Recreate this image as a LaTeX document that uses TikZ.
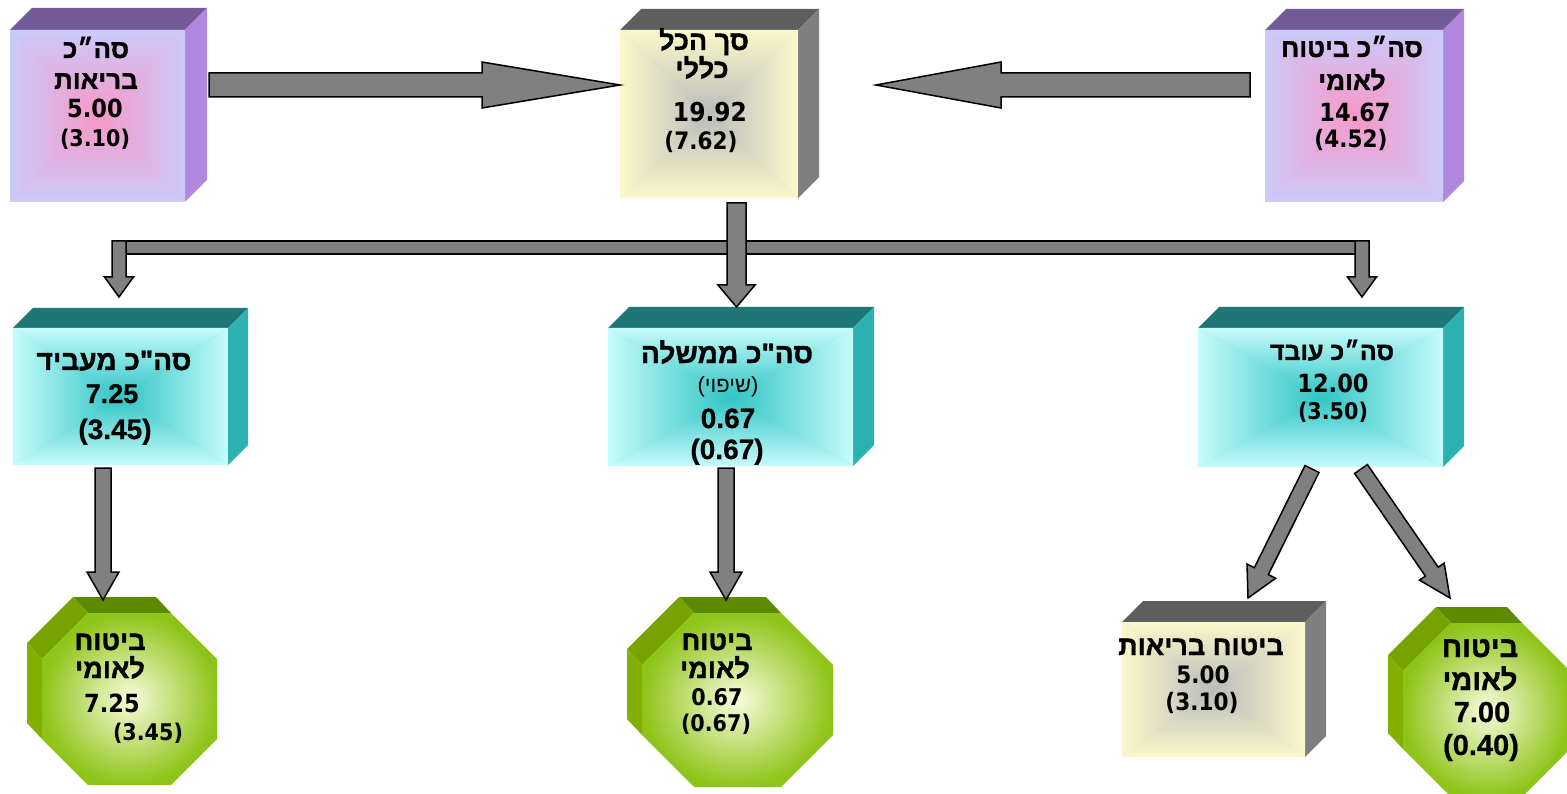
\documentclass[tikz,border=0pt]{standalone}
\usepackage{fontspec}
\usetikzlibrary{calc}
\TeXXeTstate=1
\newfontfamily\hebf[Script=Hebrew,BoldFeatures={FakeBold=1.3}]{Liberation Sans}
\newfontfamily\tahf[FakeStretch=0.9]{DejaVu Sans}
\newfontfamily\arif[BoldFeatures={FakeBold=0.6}]{Liberation Sans}
\newcommand\fs[1]{\fontsize{#1}{#1}\selectfont}
\definecolor{purtop}{HTML}{735A98}
\definecolor{purside}{HTML}{B086DE}
\definecolor{purout}{HTML}{CBCBFA}
\definecolor{purin}{HTML}{F797C8}
\definecolor{yeltop}{HTML}{5E5E5E}
\definecolor{yelside}{HTML}{7F7F7F}
\definecolor{yelout}{HTML}{FBF9CA}
\definecolor{yelin}{HTML}{BBBBBB}
\definecolor{teatop}{HTML}{1E7676}
\definecolor{teaside}{HTML}{2CB0B0}
\definecolor{teaout}{HTML}{C6FBFB}
\definecolor{teain}{HTML}{30C4C4}
\definecolor{grntop}{HTML}{5C8A00}
\definecolor{grndiag}{HTML}{76A300}
\definecolor{grnside}{HTML}{82B000}
\definecolor{grnout}{HTML}{8EC418}
\definecolor{grnin}{HTML}{F8FCDC}
\definecolor{arrgray}{HTML}{808080}
% 3D box: x1,y1,x2,y2 (front face), depth, scheme, name
\newcommand\cube[7]{%
 \fill[#6top] (#1,#2) -- (#1+#5,#2-#5) -- (#3+#5,#2-#5) -- (#3,#2) -- cycle;
 \fill[#6side] (#3,#2) -- (#3+#5,#2-#5) -- (#3+#5,#4-#5) -- (#3,#4) -- cycle;
 \fill[#6out!50!#6in] (#1,#2) rectangle (#3,#4);
 \shade[top color=#6out,bottom color=#6in] (#1,#2) -- (#3,#2) -- ({(#1+#3)/2},{(#2+#4)/2}) -- cycle;
 \shade[top color=#6in,bottom color=#6out] (#1,#4) -- (#3,#4) -- ({(#1+#3)/2},{(#2+#4)/2}) -- cycle;
 \shade[left color=#6out,right color=#6in] (#1,#2) -- (#1,#4) -- ({(#1+#3)/2},{(#2+#4)/2}) -- cycle;
 \shade[left color=#6in,right color=#6out] (#3,#2) -- (#3,#4) -- ({(#1+#3)/2},{(#2+#4)/2}) -- cycle;
 \node[inner sep=0pt,minimum width={#3-#1},minimum height={#4-#2}] (#7) at ({(#1+#3)/2},{(#2+#4)/2}) {};
}
% 3D octagon: x1,y1,x2,y2 (front face), corner cut, name
\newcommand\octo[6]{%
 \fill[grntop] (#1+#5-15,#2-16) -- (#3-#5-15,#2-16) -- (#3-#5,#2) -- (#1+#5,#2) -- cycle;
 \fill[grndiag] (#1-15,#2+#5-16) -- (#1+#5-15,#2-16) -- (#1+#5,#2) -- (#1,#2+#5) -- cycle;
 \fill[grnside] (#1-15,#2+#5-16) -- (#1-15,#4-#5-16) -- (#1,#4-#5) -- (#1,#2+#5) -- cycle;
 \shade[inner color=grnin,outer color=grnout] (#1+#5,#2) -- (#3-#5,#2) -- (#3,#2+#5) -- (#3,#4-#5) -- (#3-#5,#4) -- (#1+#5,#4) -- (#1,#4-#5) -- (#1,#2+#5) -- cycle;
 \node[inner sep=0pt,minimum width={#3-#1},minimum height={#4-#2}] (#6) at ({(#1+#3)/2},{(#2+#4)/2}) {};
}
% block arrow: start, end, shaft half width, head half width, head length
\newcommand\barrow[5]{%
 \coordinate (tmpb) at ($(#2)!#5!(#1)$);
 \draw[blk] ($(#1)!#3!90:(#2)$) -- ($(tmpb)!#3!90:(#2)$) -- ($(tmpb)!#4!90:(#2)$) -- (#2) -- ($(tmpb)!#4!-90:(#2)$) -- ($(tmpb)!#3!-90:(#2)$) -- ($(#1)!#3!-90:(#2)$) -- cycle;
}
\begin{document}
\begin{tikzpicture}[x=1pt,y=-1pt,
  blk/.style={fill=arrgray,draw=black,line width=1.5pt,line join=miter},
  txt/.style={inner sep=0pt,anchor=base,text=black},
  hb/.style={txt,font={\hebf\bfseries\fs{#1}}},
  hr/.style={txt,font={\hebf\fs{#1}}},
  tb/.style={txt,font={\tahf\bfseries\fs{#1}}},
  ab/.style={txt,font={\arif\bfseries\fs{#1}}}]
\useasboundingbox (0,0) rectangle (1567,794);
\clip (0,0) rectangle (1567,794);
% boxes
\cube{10}{30}{185}{202}{22}{pur}{B1}
\cube{620}{30}{798}{198}{21}{yel}{B2}
\cube{1265}{30}{1443}{202}{21}{pur}{B3}
\cube{13}{328}{228}{465}{20}{tea}{T1}
\cube{608}{328}{853}{466}{21}{tea}{T2}
\cube{1198}{328}{1443}{467}{21}{tea}{T3}
\cube{1122}{622}{1305}{757}{21}{yel}{Y1}
\octo{42}{613}{217}{785}{46}{O1}
\octo{642}{613}{833}{787}{52}{O2}
\octo{1403}{623}{1570}{797}{48}{O3}
% texts
\node[hb=26] (t1a) at (96,58) {\beginR סה״כ\endR};
\node[hb=26] (t1b) at (96,89) {\beginR בריאות\endR};
\node[tb=25] (t1c) at (95,118) {5.00};
\node[tb=23] (t1d) at (95,147) {(3.10)};
\node[hb=27] (t2a) at (704,50) {\beginR סך הכל\endR};
\node[hb=27] (t2b) at (702,78) {\beginR כללי\endR};
\node[tb=26] (t2c) at (710,122) {19.92};
\node[tb=24] (t2d) at (701,150) {(7.62)};
\node[hb=26] (t3a) at (1352,57) {\beginR סה״כ ביטוח\endR};
\node[hb=26] (t3b) at (1352,90) {\beginR לאומי\endR};
\node[tb=25] (t3c) at (1355,122) {14.67};
\node[tb=24] (t3d) at (1351,148) {(4.52)};
\node[hb=28] (t4a) at (114,370) {\beginR סה"כ מעביד\endR};
\node[ab=27] (t4b) at (112,403) {7.25};
\node[ab=28] (t4c) at (115,439) {(3.45)};
\node[hb=28] (t5a) at (727,363) {\beginR סה"כ ממשלה\endR};
\node[hr=22] (t5b) at (728,392) {{\arif(}\beginR שיפוי\endR{\arif)}};
\node[ab=28] (t5c) at (728,428) {0.67};
\node[ab=28] (t5d) at (727,459) {(0.67)};
\node[hb=25] (t6a) at (1332,360) {\beginR סה״כ עובד\endR};
\node[tb=25] (t6b) at (1333,392) {12.00};
\node[tb=23] (t6c) at (1333,420) {(3.50)};
\node[hb=27] (t7a) at (110,650) {\beginR ביטוח\endR};
\node[hb=27] (t7b) at (110,678) {\beginR לאומי\endR};
\node[tb=25] (t7c) at (112,712) {7.25};
\node[tb=23] (t7d) at (148,740) {(3.45)};
\node[hb=27] (t8a) at (717,650) {\beginR ביטוח\endR};
\node[hb=27] (t8b) at (715,678) {\beginR לאומי\endR};
\node[tb=23] (t8c) at (717,705) {0.67};
\node[tb=23] (t8d) at (716,731) {(0.67)};
\node[hb=27] (t9a) at (1201,655) {\beginR ביטוח בריאות\endR};
\node[tb=24] (t9b) at (1203,683) {5.00};
\node[tb=24] (t9c) at (1202,710) {(3.10)};
\node[hb=29] (t10a) at (1480,657) {\beginR ביטוח\endR};
\node[hb=29] (t10b) at (1480,690) {\beginR לאומי\endR};
\node[ab=29] (t10c) at (1482,722) {7.00};
\node[ab=29] (t10d) at (1481,755) {(0.40)};
% connector end points
\coordinate (a1s) at (209,85);   \coordinate (a1e) at (620,85);
\coordinate (a2s) at (1250,85);  \coordinate (a2e) at (876,85);
\coordinate (barL) at (113,241); \coordinate (barR) at (1369,254);
\coordinate (a3s) at (119,241);  \coordinate (a3e) at (119,297);
\coordinate (a4s) at (736.5,203);\coordinate (a4e) at (736.5,307);
\coordinate (a5s) at (1362,241); \coordinate (a5e) at (1362,297);
\coordinate (a6s) at (103,468);  \coordinate (a6e) at (103,600);
\coordinate (a7s) at (726,468);  \coordinate (a7e) at (726,600);
\coordinate (a8s) at (1312,469); \coordinate (a8e) at (1248,598);
\coordinate (a9s) at (1361,469); \coordinate (a9e) at (1450,598);
% connectors
\barrow{a1s}{a1e}{12pt}{23pt}{138pt}
\barrow{a2s}{a2e}{12pt}{23pt}{125pt}
\draw[blk] (barL) rectangle (barR);
\barrow{a3s}{a3e}{7pt}{14.5pt}{20pt}
\barrow{a5s}{a5e}{7pt}{14.5pt}{20pt}
\barrow{a4s}{a4e}{9.5pt}{18.5pt}{22pt}
\barrow{a6s}{a6e}{8pt}{16pt}{28pt}
\barrow{a7s}{a7e}{8pt}{16pt}{28pt}
\barrow{a8s}{a8e}{7.8pt}{16pt}{30pt}
\barrow{a9s}{a9e}{7.8pt}{15pt}{32pt}
\end{tikzpicture}
\end{document}
